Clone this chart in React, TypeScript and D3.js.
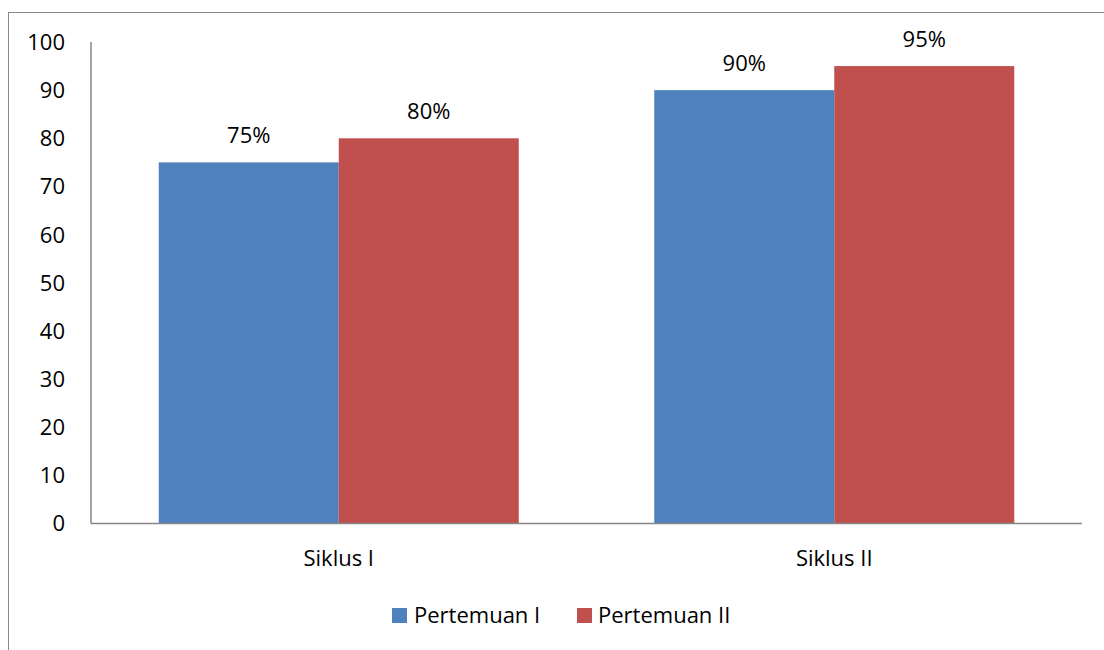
import React from "react";
import * as d3 from "d3";

const categories = ["Siklus I", "Siklus II"];
const seriesNames = ["Pertemuan I", "Pertemuan II"];
const pertemuanI = [75, 90];
const pertemuanII = [80, 95];
const dataLabels = [["75%", "90%"], ["80%", "95%"]];
const yTicks = [0, 10, 20, 30, 40, 50, 60, 70, 80, 90, 100];
const colors = ["#4F81BD", "#C0504D"];

const W = 1104;
const H = 650;
const FONT = "'Open Sans', 'Noto Sans', sans-serif";
const FS = 22;

export default function App() {
  const left = 91;
  const right = 1082;
  const top = 42;
  const bottom = 523.5;
  const x = d3.scaleBand<string>().domain(categories).range([left, right]).paddingInner(0).paddingOuter(0);
  const y = d3.scaleLinear().domain([0, 100]).range([bottom, top]);
  const series = [pertemuanI, pertemuanII];

  const bw = 180;
  const barX = (ci: number, si: number) => {
    const c = (x(categories[ci]) as number) + x.bandwidth() / 2;
    return c - bw + si * bw;
  };

  return (
    <svg width={W} height={H} style={{ position: "absolute", left: 0, top: 0 }}>
      <rect x={0} y={0} width={W} height={H} fill="#fff" />
      <rect x={8.5} y={12.5} width={W + 20} height={H + 20} fill="none" stroke="#898989" strokeWidth={1} />
      {series.map((vals, si) =>
        vals.map((v, ci) => (
          <rect
            key={`b${si}-${ci}`}
            x={barX(ci, si)}
            y={y(v)}
            width={bw}
            height={y(0) - y(v)}
            fill={colors[si]}
          />
        ))
      )}
      {series.map((vals, si) =>
        vals.map((v, ci) => (
          <text
            key={`l${si}-${ci}`}
            x={barX(ci, si) + bw / 2}
            y={y(v) - 19}
            textAnchor="middle"
            fontFamily={FONT}
            fontSize={FS}
            fill="#000"
          >
            {dataLabels[si][ci]}
          </text>
        ))
      )}
      <line x1={left} x2={left} y1={top} y2={bottom} stroke="#868686" strokeWidth={1.5} />
      <line x1={left} x2={right} y1={bottom} y2={bottom} stroke="#868686" strokeWidth={1.5} />
      {yTicks.map((t) => (
        <text
          key={`t${t}`}
          x={65}
          y={y(t)}
          dy="0.36em"
          textAnchor="end"
          fontFamily={FONT}
          fontSize={FS}
          fill="#000"
        >
          {t}
        </text>
      ))}
      {categories.map((c) => (
        <text
          key={c}
          x={(x(c) as number) + x.bandwidth() / 2}
          y={566}
          textAnchor="middle"
          fontFamily={FONT}
          fontSize={FS}
          fill="#000"
        >
          {c}
        </text>
      ))}
      <g>
        <rect x={392} y={608} width={15} height={15} fill={colors[0]} />
        <text x={414} y={623} fontFamily={FONT} fontSize={FS} fill="#000">
          {seriesNames[0]}
        </text>
        <rect x={577} y={608} width={15} height={15} fill={colors[1]} />
        <text x={598} y={623} fontFamily={FONT} fontSize={FS} fill="#000">
          {seriesNames[1]}
        </text>
      </g>
    </svg>
  );
}
